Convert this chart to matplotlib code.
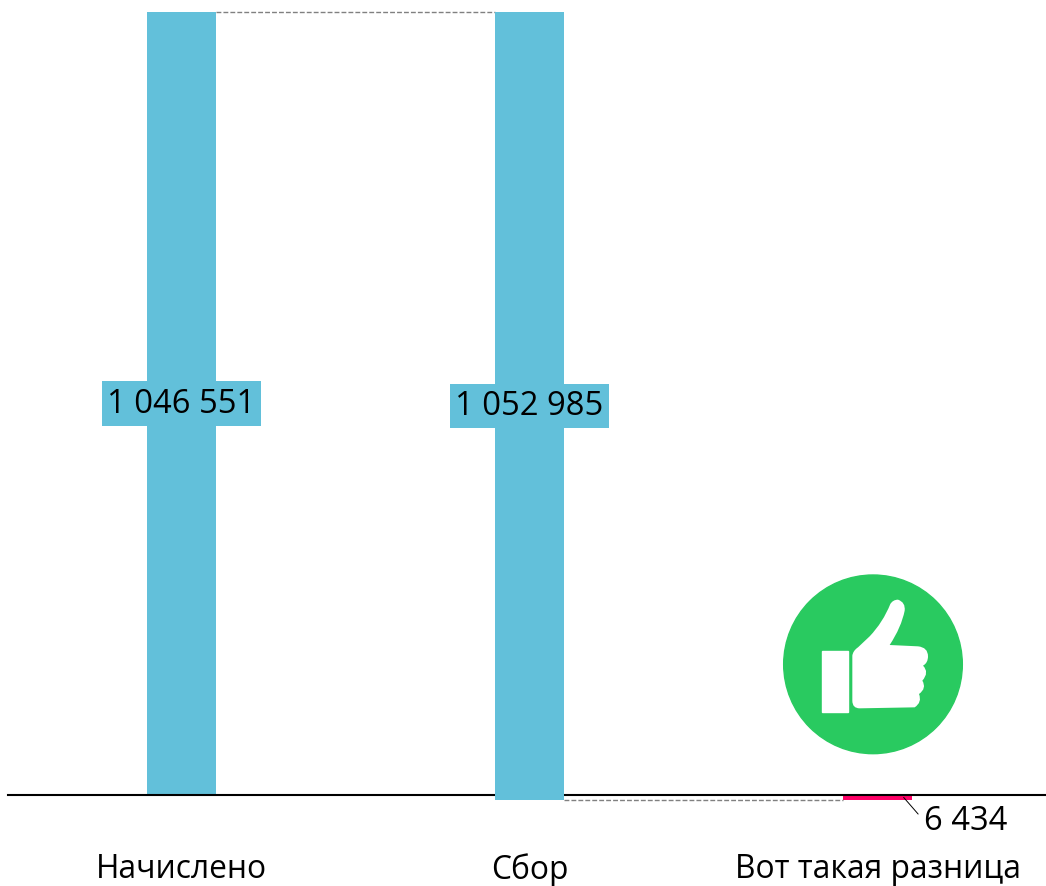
import matplotlib
matplotlib.use("Agg")
import matplotlib.pyplot as plt
from matplotlib.patches import Circle, PathPatch, Rectangle
from matplotlib.path import Path

categories = ["Начислено", "Сбор", "Вот такая разница"]
heights = [1046551, 1052985, 6434]
bottoms = [0, -6434, -6434]
labels = ["1 046 551", "1 052 985"]
diff_label = "6 434"

BLUE = "#62C0DA"
PINK = "#FF0066"
GREEN = "#29CA60"
W, H = 1046, 887
SIZE = 23.6

plt.rcParams['font.family'] = ['Open Sans', 'DejaVu Sans']

fig = plt.figure(figsize=(W / 100, H / 100), dpi=100)

# axes bottom sits on the zero line, bars go a bit below it
ax = fig.add_axes([8 / W, (H - 796) / H, (W - 8) / W, 796 / H])
ax.patch.set_visible(False)
ax.set_xlim(-0.4986, 2.484)
ax.set_ylim(0, 1046551 * 796 / 783)

bars = ax.bar(range(3), heights, bottom=bottoms, width=0.2,
              color=[BLUE, BLUE, PINK], clip_on=False)
bars[1].set_zorder(3)

for s in ['top', 'left', 'right']:
    ax.spines[s].set_visible(False)
ax.spines['bottom'].set_linewidth(1.5)
ax.spines['bottom'].set_color('black')
ax.set_yticks([])
ax.set_xticks(range(3))
ax.set_xticklabels(categories, fontsize=22.9)
ax.tick_params(axis='x', length=0, pad=41)

# connectors between the steps
ax.plot([0.1, 0.9], [heights[0], heights[0]], color='#808080', lw=1,
        ls=(0, (3.5, 1.5)), clip_on=False)
ax.plot([1.1, 1.9], [bottoms[1], bottoms[1]], color='#808080', lw=1,
        ls=(0, (3.5, 1.5)), clip_on=False, zorder=2)

# value labels on the bars
for i, lab in enumerate(labels):
    ax.text(i, bottoms[i] + heights[i] / 2, lab, ha='center', va='center',
            fontsize=SIZE, color='black', zorder=4,
            bbox=dict(facecolor=BLUE, edgecolor='none', pad=4))

ax.annotate(diff_label, xy=(2.075, bottoms[2] / 2), xytext=(20, -23),
            textcoords='offset pixels', ha='left', va='center',
            fontsize=SIZE, color='black', annotation_clip=False,
            arrowprops=dict(arrowstyle='-', color='black', lw=0.7,
                            shrinkA=3, shrinkB=0, relpos=(0, 0.5)))

# thumbs-up badge, coordinates taken from a 3x crop of the icon
icon = fig.add_axes([783 / W, (H - 755) / H, 180 / W, 179 / H])
icon.set_xlim(40, 580)
icon.set_ylim(585, 48)
icon.axis('off')
icon.add_patch(Circle((310, 316), 268, color=GREEN, clip_on=False))
icon.add_patch(Rectangle((158, 275), 77, 185, color='white'))

L, Q = Path.LINETO, Path.CURVE3
hand = [
    (Path.MOVETO, (248, 290)),
    (Q, (250, 275)), (Q, (265, 265)),
    (L, (300, 232)),
    (Q, (340, 190)), (Q, (362, 135)),
    (Q, (370, 122)), (Q, (385, 122)),
    (Q, (408, 130)), (Q, (405, 155)),
    (Q, (395, 205)), (Q, (360, 258)),
    (L, (445, 262)),
    (Q, (475, 265)), (Q, (475, 292)),
    (Q, (475, 312)), (Q, (460, 320)),
    (Q, (480, 340)), (Q, (458, 365)),
    (Q, (472, 388)), (Q, (448, 405)),
    (Q, (458, 430)), (Q, (435, 445)),
    (L, (270, 448)),
    (Q, (248, 448)), (Q, (248, 425)),
    (Path.CLOSEPOLY, (248, 290)),
]
codes, verts = zip(*hand)
icon.add_patch(PathPatch(Path(verts, codes), facecolor='white', edgecolor='none'))

plt.savefig("out.png", dpi=100)
